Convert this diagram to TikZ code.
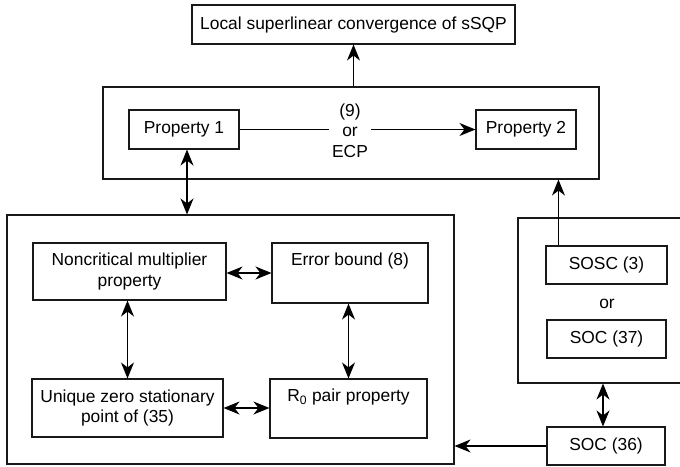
\documentclass[tikz,border=0pt]{standalone}
\usepackage{fontspec}
\setmainfont{Liberation Sans}
\usetikzlibrary{positioning, arrows.meta}

\begin{document}
\begin{tikzpicture}[x=1pt, y=-1pt, font=\fontsize{17.4}{20.5}\selectfont]
		\tikzstyle{main}=[rectangle, draw=black!90, line width=1.1pt, align=center, inner sep=3pt]
		\tikzstyle{frame}=[rectangle, draw=black!90, line width=1.1pt]
		\tikzstyle{connect}=[-{Stealth[length=16pt, width=13pt, inset=5pt]}, line width=1.1pt]
		\tikzstyle{both}=[{Stealth[length=16pt, width=13pt, inset=5pt]}-{Stealth[length=16pt, width=13pt, inset=5pt]}, line width=1.1pt]
		\clip (0,0) rectangle (680,466);
		
		\node[main, minimum width=323pt, minimum height=39pt] (sSQP) at (353.5,24.5) {Local superlinear convergence of sSQP};
		
		% upper frame
		\node[frame, minimum width=496pt, minimum height=92pt] (box1) at (351,133) {};
		\node[main, minimum width=110pt, minimum height=39pt] (prop1) at (184,129.5) {Property 1};
		\node[main, minimum width=100pt, minimum height=39pt] (prop2) at (526,129.5) {Property 2};
		\node[align=center, inner sep=3pt] (cond) at (350,130.5) {(9)\\or\\ECP};
		
		% lower left frame
		\node[frame, minimum width=447pt, minimum height=249pt] (box2) at (230.5,339.5) {};
		\node[main, minimum width=193pt, minimum height=57pt] (ncm) at (129.5,271.5) {Noncritical multiplier\\property};
		\node[main, minimum width=156pt, minimum height=60pt] (eb) at (350,273) {Error bound (8)\\\strut};
		\node[main, minimum width=191pt, minimum height=58pt] (uzs) at (127.5,408) {Unique zero stationary\\point of (35)};
		\node[main, minimum width=157pt, minimum height=59pt] (rzero) at (348.5,408.5) {R\textsubscript{0} pair property\\\strut};
		
		% right frame
		\node[frame, minimum width=202pt, minimum height=165pt] (box3) at (619,300.5) {};
		\node[main, minimum width=121pt, minimum height=38pt] (sosc) at (606.5,265) {SOSC (3)};
		\node[] (or) at (607,304) {or};
		\node[main, minimum width=119pt, minimum height=38pt] (soc37) at (606.5,339) {SOC (37)};
		\node[main, minimum width=118pt, minimum height=38pt] (soc36) at (606,446) {SOC (36)};
		
		\path (box1.north -| sSQP.south) edge [connect] (sSQP.south);
		\path (prop1.east) edge [line width=1.1pt] (prop1.east -| cond.west);
		\path (prop2.west -| cond.east) edge [connect] (prop2.west);
		\path ([xshift=3pt]prop1.south) edge [both] ([xshift=3pt]prop1.south |- box2.north);
		\path ([xshift=13pt]sosc.north west) edge [connect] ([xshift=13pt]sosc.north west |- box1.south);
		\path ([xshift=-3pt]soc36.north) edge [both] ([xshift=-3pt]soc36.north |- box3.south);
		\path (soc36.west) edge [connect] (soc36.west -| box2.east);
		
		\path (ncm.east |- eb) edge [both] (eb.west);
		\path (uzs.north) edge [both] (uzs.north |- ncm.south);
		\path (rzero.north) edge [both] (rzero.north |- eb.south);
		\path (uzs.east) edge [both] (uzs.east -| rzero.west);
		
	\end{tikzpicture}
\end{document}
